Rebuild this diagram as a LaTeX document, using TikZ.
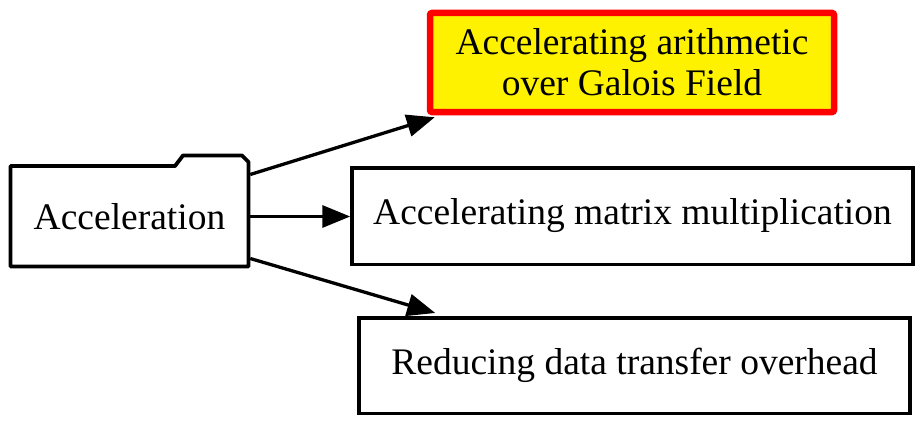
\documentclass[tikz,border=0pt]{standalone}
\usepackage{fontspec}
\setmainfont{Liberation Serif}
\usetikzlibrary{positioning, arrows.meta, calc}

\begin{document}
\begin{tikzpicture}[x=1pt, y=-1pt, >={Triangle[length=28pt,width=22pt]},
		box/.style={draw, line width=3.5pt, rectangle, align=center, inner sep=0pt, font=\fontsize{37.5}{41}\selectfont},
		link/.style={->, line width=3.3pt}]
		
		\useasboundingbox (0,0) rectangle (923,428);
		
		% Draw folder outline
		\draw[line width=3.8pt, line join=round] (10.5,166) -- (175,166) -- (183,155.5) -- (242,155.5) -- (248.5,162) -- (248.5,266.5) -- (10.5,266.5) -- cycle;
		\node[box, draw=none, minimum width=238pt, minimum height=100.5pt] (accel) at (129.5,216.5) {Acceleration};
		
		% Draw target boxes
		\node[box, draw=red, fill=yellow, line width=6.5pt, rounded corners=2pt, minimum width=404pt, minimum height=99pt] (arith) at (632,62.5) {Accelerating arithmetic\\over Galois Field};
		\node[box, minimum width=561pt, minimum height=96.5pt] (matmul) at (632.5,216) {Accelerating matrix multiplication};
		\node[box, minimum width=551pt, minimum height=95.5pt] (transfer) at (634.5,365.5) {Reducing data transfer overhead};
		
		% Add arrows
		\draw[link] ($(accel.east)+(0,-42)$) -- ($(arith.south west)+(8,2)$);
		\draw[link] (accel.east) -- (accel.east -| matmul.west);
		\draw[link] ($(accel.east)+(0,42)$) -- ($(transfer.north west)+(78,-3)$);
		
	\end{tikzpicture}
\end{document}
